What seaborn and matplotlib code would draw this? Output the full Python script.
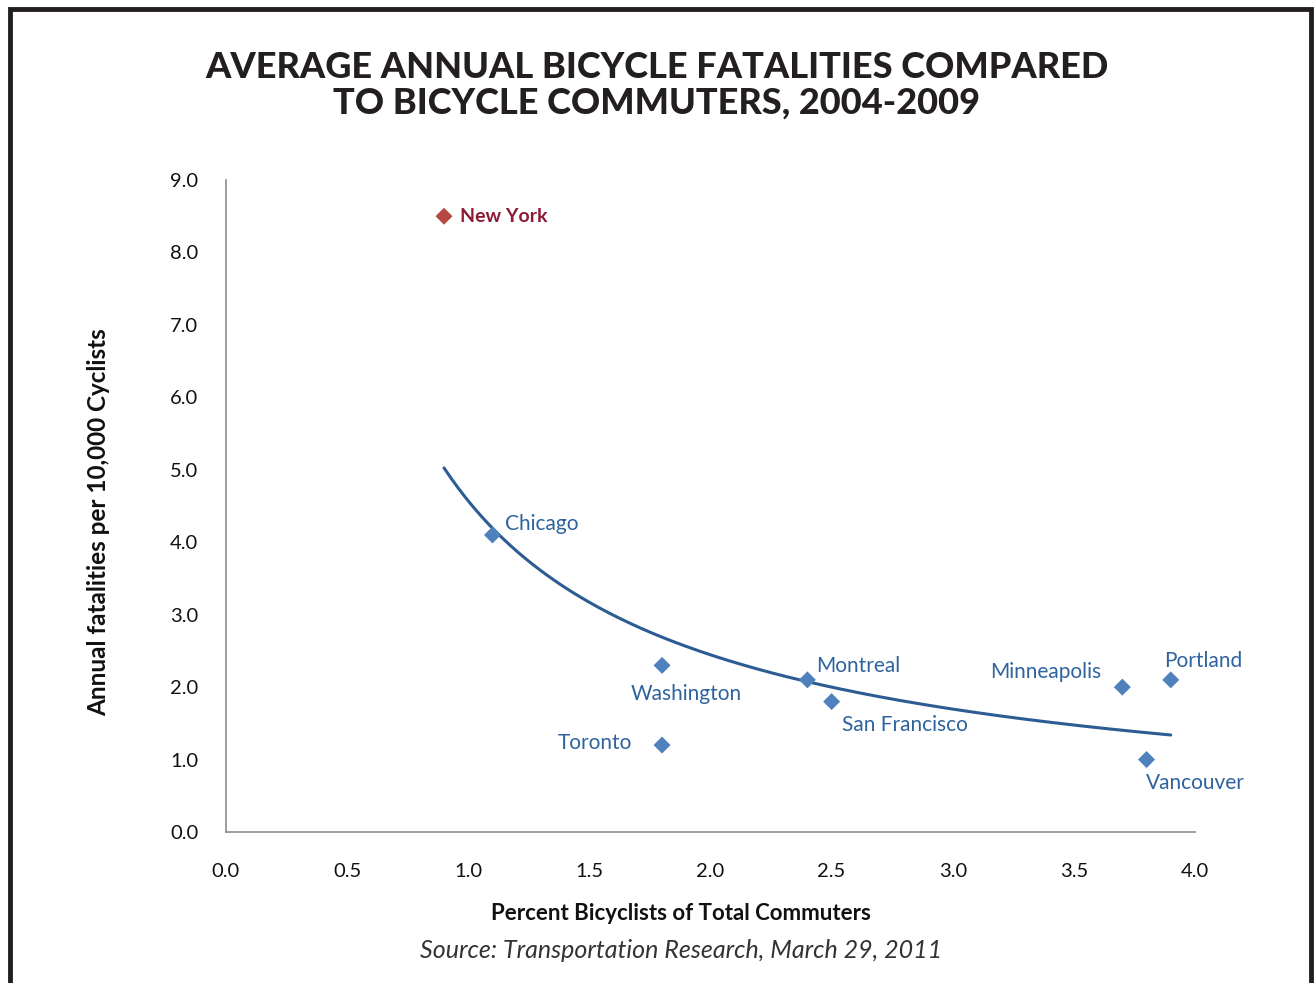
import numpy as np
import pandas as pd
import seaborn as sns
import matplotlib.pyplot as plt
from matplotlib.patches import Rectangle

# data
cities = ["New York", "Chicago", "Washington", "Toronto", "Montreal",
          "San Francisco", "Minneapolis", "Portland", "Vancouver"]
pct_commuters = [0.9, 1.1, 1.8, 1.8, 2.4, 2.5, 3.7, 3.9, 3.8]
fatalities = [8.5, 4.1, 2.3, 1.2, 2.1, 1.8, 2.0, 2.1, 1.0]

# power trendline y = a * x^b
trend_a = 4.57
trend_b = -0.902
trend_range = [0.9, 3.9]

x_ticks = [0.0, 0.5, 1.0, 1.5, 2.0, 2.5, 3.0, 3.5, 4.0]
y_ticks = [0.0, 1.0, 2.0, 3.0, 4.0, 5.0, 6.0, 7.0, 8.0, 9.0]

df = pd.DataFrame({"city": cities, "pct": pct_commuters, "fat": fatalities})
df["group"] = np.where(df["city"] == "New York", "ny", "other")

# label placement (pixel offsets from the marker, alignment)
label_pos = {
    "New York": (16, 0, "left"),
    "Chicago": (13, 11, "left"),
    "Washington": (24, -29, "center"),
    "Toronto": (-30, 2, "right"),
    "Montreal": (9, 14, "left"),
    "San Francisco": (10, -23, "left"),
    "Minneapolis": (-21, 15, "right"),
    "Portland": (-7, 19, "left"),
    "Vancouver": (-1, -23, "left"),
}

sns.set_style("white")
plt.rcParams["font.family"] = ["Lato", "DejaVu Sans"]

fig = plt.figure(figsize=(13.15, 9.83), dpi=100)
ax = fig.add_axes([226 / 1315, 1 - 832 / 983, (1195 - 226) / 1315, (832 - 180) / 983])

blue = "#4F81BD"
red = "#B5483F"
txt_blue = "#2E639E"

# trendline
tx = np.linspace(trend_range[0], trend_range[1], 200)
ty = trend_a * tx ** trend_b
sns.lineplot(x=tx, y=ty, ax=ax, color="#2C5C93", linewidth=2.2)

sns.scatterplot(data=df, x="pct", y="fat", hue="group", palette={"ny": red, "other": blue},
                marker="D", s=75, edgecolor="none", legend=False, ax=ax, zorder=3)

for c, x, y in zip(cities, pct_commuters, fatalities):
    dx, dy, ha = label_pos[c]
    if c == "New York":
        ax.annotate(c, (x, y), xytext=(dx, dy), textcoords="offset pixels",
                    ha=ha, va="center", fontsize=14, fontweight="bold", color="#8B1A32")
    else:
        ax.annotate(c, (x, y), xytext=(dx, dy), textcoords="offset pixels",
                    ha=ha, va="center", fontsize=15, color=txt_blue)

ax.set_xlim(0, 4)
ax.set_ylim(0, 9)
ax.set_xticks(x_ticks)
ax.set_yticks(y_ticks)
ax.set_xticklabels([f"{v:.1f}" for v in x_ticks])
ax.set_yticklabels([f"{v:.1f}" for v in y_ticks])
ax.tick_params(axis="both", length=0, labelsize=14.5, colors="#111111")
ax.tick_params(axis="x", pad=22)
ax.tick_params(axis="y", pad=20)
for s in ["top", "right"]:
    ax.spines[s].set_visible(False)
for s in ["left", "bottom"]:
    ax.spines[s].set_color("#8C8C8C")
    ax.spines[s].set_linewidth(1.2)
ax.set_xlabel("")
ax.set_ylabel("")

fig.text(99 / 1315, 1 - 522 / 983, "Annual fatalities per 10,000 Cyclists", rotation=90,
         ha="center", va="center", fontsize=17.5, fontweight="bold", color="#111111")
fig.text(681 / 1315, 1 - 914 / 983, "Percent Bicyclists of Total Commuters",
         ha="center", va="center", fontsize=16, fontweight="bold", color="#111111")
fig.text(681 / 1315, 1 - 950 / 983, "Source: Transportation Research, March 29, 2011",
         ha="center", va="center", fontsize=18, style="italic", color="#333333")

fig.text(657 / 1315, 1 - 85 / 983, "AVERAGE ANNUAL BICYCLE FATALITIES COMPARED\nTO BICYCLE COMMUTERS, 2004-2009",
         ha="center", va="center", fontsize=26, fontweight="black", color="#231F20",
         linespacing=1.1)

# outer frame
fig.patches.append(Rectangle((10 / 1315, -0.05), (1311 - 10) / 1315, 1.05 - 9 / 983,
                             transform=fig.transFigure, fill=False,
                             edgecolor="#231F20", linewidth=3.5))

fig.savefig("out.png", dpi=100)
